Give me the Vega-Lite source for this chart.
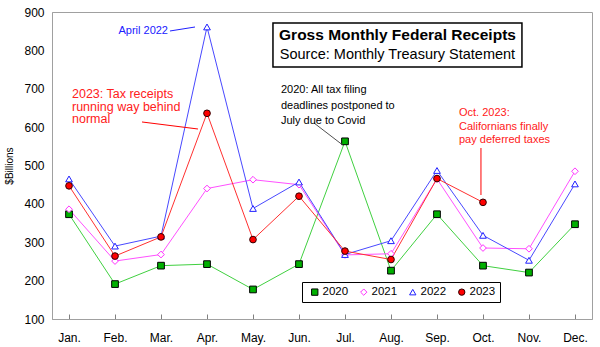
{
  "$schema": "https://vega.github.io/schema/vega-lite/v6.json",
  "width": 540,
  "height": 307,
  "autosize": {"type": "none"},
  "padding": {"left": 52, "top": 12, "right": 8, "bottom": 28},
  "background": "white",
  "config": {
    "font": "Liberation Sans",
    "view": {"stroke": "#a0a0a0", "strokeWidth": 1},
    "axis": {"grid": false, "domainColor": "#a0a0a0", "labelColor": "#000000", "labelFontSize": 12, "titleColor": "#000000"},
    "legend": {"strokeColor": "#000000", "fillColor": "#ffffff", "padding": 4, "labelFontSize": 11.5, "symbolSize": 40, "columnPadding": 6, "labelOffset": 2, "symbolOffset": 3, "symbolStrokeWidth": 1}
  },
  "datasets": {
    "receipts": [
      {"m": 1, "year": "2020", "v": 373}, {"m": 2, "year": "2020", "v": 191}, {"m": 3, "year": "2020", "v": 239}, {"m": 4, "year": "2020", "v": 243},
      {"m": 5, "year": "2020", "v": 177}, {"m": 6, "year": "2020", "v": 243}, {"m": 7, "year": "2020", "v": 563}, {"m": 8, "year": "2020", "v": 226},
      {"m": 9, "year": "2020", "v": 373}, {"m": 10, "year": "2020", "v": 239}, {"m": 11, "year": "2020", "v": 221}, {"m": 12, "year": "2020", "v": 347},
      {"m": 1, "year": "2021", "v": 386}, {"m": 2, "year": "2021", "v": 251}, {"m": 3, "year": "2021", "v": 268}, {"m": 4, "year": "2021", "v": 440},
      {"m": 5, "year": "2021", "v": 463}, {"m": 6, "year": "2021", "v": 450}, {"m": 7, "year": "2021", "v": 267}, {"m": 8, "year": "2021", "v": 270},
      {"m": 9, "year": "2021", "v": 465}, {"m": 10, "year": "2021", "v": 285}, {"m": 11, "year": "2021", "v": 283}, {"m": 12, "year": "2021", "v": 485},
      {"m": 1, "year": "2022", "v": 465}, {"m": 2, "year": "2022", "v": 290}, {"m": 3, "year": "2022", "v": 316}, {"m": 4, "year": "2022", "v": 861},
      {"m": 5, "year": "2022", "v": 388}, {"m": 6, "year": "2022", "v": 457}, {"m": 7, "year": "2022", "v": 268}, {"m": 8, "year": "2022", "v": 304},
      {"m": 9, "year": "2022", "v": 487}, {"m": 10, "year": "2022", "v": 318}, {"m": 11, "year": "2022", "v": 253}, {"m": 12, "year": "2022", "v": 452},
      {"m": 1, "year": "2023", "v": 447}, {"m": 2, "year": "2023", "v": 264}, {"m": 3, "year": "2023", "v": 314}, {"m": 4, "year": "2023", "v": 636},
      {"m": 5, "year": "2023", "v": 307}, {"m": 6, "year": "2023", "v": 420}, {"m": 7, "year": "2023", "v": 277}, {"m": 8, "year": "2023", "v": 255},
      {"m": 9, "year": "2023", "v": 466}, {"m": 10, "year": "2023", "v": 404}
    ],
    "notes": [
      {"id": "apr", "m": 3.152, "v": 850.5, "label": "April 2022"},
      {"id": "tax", "m": 1.065, "v": 686.3, "label": "2023: Tax receipts\nrunning way behind\nnormal"},
      {"id": "covid", "m": 5.608, "v": 696.7, "label": "2020: All tax filing\ndeadlines postponed to\nJuly due to Covid"},
      {"id": "oct", "m": 9.478, "v": 636.8, "label": "Oct. 2023:\nCalifornians finally\npay deferred taxes"},
      {"id": "t1", "m": 8.141, "v": 840.1, "label": "Gross Monthly Federal Receipts"},
      {"id": "t2", "m": 8.141, "v": 788.0, "label": "Source: Monthly Treasury Statement"}
    ],
    "pointers": [
      {"id": "apr", "m": 3.195, "v": 850.5, "m2": 3.739, "v2": 860.9},
      {"id": "tax", "m": 2.587, "v": 613.4, "m2": 3.804, "v2": 595.1},
      {"id": "covid", "m": 6.326, "v": 610.8, "m2": 6.95, "v2": 553.4},
      {"id": "oct", "m": 9.956, "v": 545.6, "m2": 9.956, "v2": 423.1}
    ],
    "box": [
      {"m": 5.434, "v": 871.3, "m2": 10.847, "v2": 756.7}
    ]
  },
  "encoding": {
    "x": {
      "field": "m", "type": "quantitative",
      "scale": {"domain": [0.63, 12.37], "nice": false, "zero": false},
      "axis": {
        "title": null, "values": [1,2,3,4,5,6,7,8,9,10,11,12],
        "labelExpr": "['Jan.','Feb.','Mar.','Apr.','May.','Jun.','Jul.','Aug.','Sep.','Oct.','Nov.','Dec.'][datum.value-1]",
        "tickSize": -5, "tickColor": "#808080", "labelPadding": 18, "labelFlush": false, "labelOverlap": false
      }
    },
    "y": {
      "field": "v", "type": "quantitative",
      "scale": {"domain": [100, 900], "nice": false, "zero": false},
      "axis": {
        "title": "$Billions", "titleFontSize": 10, "titleFontWeight": "normal", "titlePadding": 9,
        "values": [100,200,300,400,500,600,700,800,900], "ticks": false, "labelPadding": 8
      }
    }
  },
  "layer": [
    {
      "data": {"name": "receipts"},
      "mark": {"type": "line", "strokeWidth": 1},
      "encoding": {
        "color": {"field": "year", "type": "nominal", "scale": {"domain": ["2023","2022","2021","2020"], "range": ["#ff3030","#4848ff","#ff50ff","#40d040"]}, "legend": null}
      }
    },
    {
      "data": {"name": "receipts"},
      "mark": {"type": "point", "opacity": 1, "strokeWidth": 1, "size": 45},
      "encoding": {
        "shape": {"field": "year", "type": "nominal", "scale": {"domain": ["2020","2021","2022","2023"], "range": ["square","diamond","triangle-up","circle"]},
          "legend": {"orient": "none", "legendX": 250, "legendY": 270, "direction": "horizontal", "title": null}},
        "fill": {"field": "year", "type": "nominal", "scale": {"domain": ["2020","2021","2022","2023"], "range": ["#00b000","#ffffff","#ffffff","#ff0000"]},
          "legend": {"orient": "none", "legendX": 250, "legendY": 270, "direction": "horizontal", "title": null}},
        "stroke": {"field": "year", "type": "nominal", "scale": {"domain": ["2020","2021","2022","2023"], "range": ["#000000","#ff30ff","#2020ff","#300000"]},
          "legend": {"orient": "none", "legendX": 250, "legendY": 270, "direction": "horizontal", "title": null}}
      }
    },
    {
      "data": {"name": "box"},
      "mark": {"type": "rect", "fill": "#ffffff", "stroke": "#000000", "strokeWidth": 1.5},
      "encoding": {"x2": {"field": "m2"}, "y2": {"field": "v2"}}
    },
    {
      "data": {"name": "pointers"},
      "transform": [{"filter": "datum.id === 'apr'"}],
      "mark": {"type": "rule", "color": "#2020ff", "strokeWidth": 1},
      "encoding": {"x2": {"field": "m2"}, "y2": {"field": "v2"}}
    },
    {
      "data": {"name": "pointers"},
      "transform": [{"filter": "datum.id === 'tax' || datum.id === 'oct'"}],
      "mark": {"type": "rule", "color": "#ff0000", "strokeWidth": 1},
      "encoding": {"x2": {"field": "m2"}, "y2": {"field": "v2"}}
    },
    {
      "data": {"name": "pointers"},
      "transform": [{"filter": "datum.id === 'covid'"}],
      "mark": {"type": "rule", "color": "#505050", "strokeWidth": 1},
      "encoding": {"x2": {"field": "m2"}, "y2": {"field": "v2"}}
    },
    {
      "data": {"name": "notes"},
      "transform": [{"filter": "datum.id === 'apr'"}],
      "mark": {"type": "text", "align": "right", "baseline": "middle", "color": "#2020ff", "fontSize": 11},
      "encoding": {"text": {"field": "label"}}
    },
    {
      "data": {"name": "notes"},
      "transform": [{"filter": "datum.id === 'tax'"}],
      "mark": {"type": "text", "align": "left", "baseline": "middle", "color": "#ff2020", "fontSize": 12.5, "lineHeight": 12.7, "lineBreak": "\n"},
      "encoding": {"text": {"field": "label"}}
    },
    {
      "data": {"name": "notes"},
      "transform": [{"filter": "datum.id === 'covid'"}],
      "mark": {"type": "text", "align": "left", "baseline": "middle", "color": "#000000", "fontSize": 11, "lineHeight": 15.5, "lineBreak": "\n"},
      "encoding": {"text": {"field": "label"}}
    },
    {
      "data": {"name": "notes"},
      "transform": [{"filter": "datum.id === 'oct'"}],
      "mark": {"type": "text", "align": "left", "baseline": "middle", "color": "#ff2020", "fontSize": 11, "lineHeight": 13.5, "lineBreak": "\n"},
      "encoding": {"text": {"field": "label"}}
    },
    {
      "data": {"name": "notes"},
      "transform": [{"filter": "datum.id === 't1'"}],
      "mark": {"type": "text", "align": "center", "baseline": "middle", "color": "#000000", "fontSize": 15.5, "fontWeight": "bold"},
      "encoding": {"text": {"field": "label"}}
    },
    {
      "data": {"name": "notes"},
      "transform": [{"filter": "datum.id === 't2'"}],
      "mark": {"type": "text", "align": "center", "baseline": "middle", "color": "#000000", "fontSize": 14.5},
      "encoding": {"text": {"field": "label"}}
    }
  ]
}
